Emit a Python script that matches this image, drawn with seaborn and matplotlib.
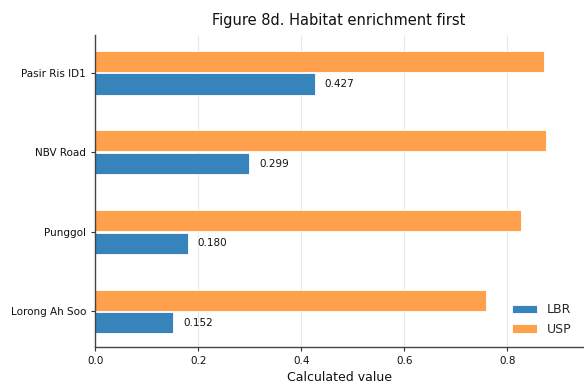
import matplotlib
matplotlib.use("Agg")
import matplotlib.pyplot as plt
import seaborn as sns
import pandas as pd

sites = ["Pasir Ris ID1", "NBV Road", "Punggol", "Lorong Ah Soo"]
lbr = [0.427, 0.299, 0.180, 0.152]
usp = [0.871, 0.875, 0.826, 0.758]
series = ["USP", "LBR"]

df = pd.DataFrame({
    "site": sites * 2,
    "value": usp + lbr,
    "series": ["USP"] * len(sites) + ["LBR"] * len(sites),
})

sns.set_theme(style="white")
plt.rcParams['font.family'] = ['DejaVu Sans']

fig = plt.figure(figsize=(5.84, 3.85), dpi=100)
ax = fig.add_axes([0.163, 0.099, 0.835, 0.81])

palette = {"USP": "#ffa04c", "LBR": "#3784bd"}
sns.barplot(data=df, y="site", x="value", hue="series", hue_order=series,
            order=sites, palette=palette, orient="h", width=0.57, gap=0.07,
            ax=ax, saturation=1, edgecolor="white", linewidth=0.6)

# value labels on LBR bars (second hue level)
lbr_cont = ax.containers[series.index("LBR")]
ax.bar_label(lbr_cont, labels=[f"{v:.3f}" for v in lbr], padding=7,
             fontsize=7.5, color="#111111")

ax.set_xlim(0, 0.947)
ax.set_ylim(3.445, -0.473)
ax.set_xticks([0.0, 0.2, 0.4, 0.6, 0.8])
ax.set_xticklabels(["0.0", "0.2", "0.4", "0.6", "0.8"], fontsize=7.5)
ax.tick_params(axis="y", labelsize=7.5)
ax.tick_params(axis="both", length=3, width=0.8, colors="#333333", bottom=True, left=True)
for lbl in ax.get_xticklabels() + ax.get_yticklabels():
    lbl.set_color("#111111")
ax.xaxis.grid(True, color="#e8e8e8", linewidth=0.8)
ax.yaxis.grid(False)
ax.set_axisbelow(True)
ax.set_xlabel("Calculated value", fontsize=9, color="#111111")
ax.set_ylabel("")
ax.set_title("Figure 8d. Habitat enrichment first", fontsize=10.5, pad=7.5, color="#111111")
for s in ["top", "right"]:
    ax.spines[s].set_visible(False)
for s in ["left", "bottom"]:
    ax.spines[s].set_color("#444444")
    ax.spines[s].set_linewidth(1.0)

handles, labels = ax.get_legend_handles_labels()
order = [labels.index("LBR"), labels.index("USP")]
ax.legend([handles[i] for i in order], [labels[i] for i in order],
          loc="lower right", frameon=False, fontsize=9, title=None)

fig.savefig("out.png", dpi=100)
